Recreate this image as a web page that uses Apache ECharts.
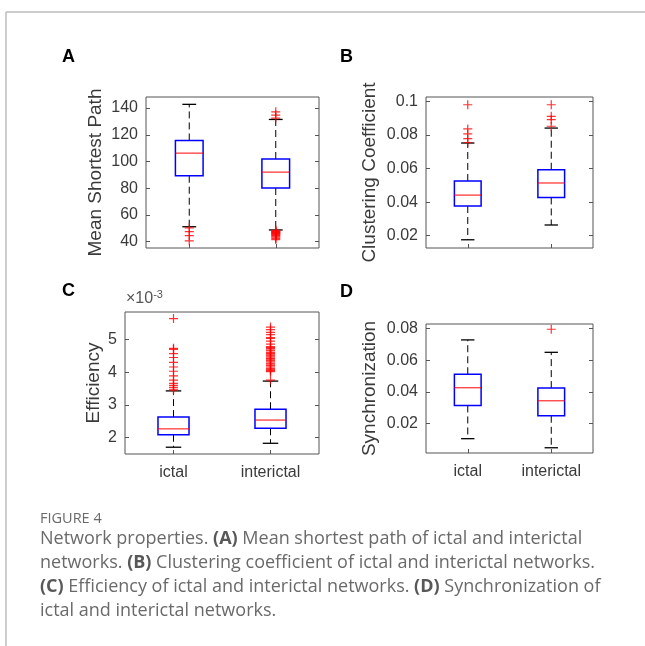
<!DOCTYPE html>
<html>
<head>
<meta charset="utf-8">
<script src="https://cdn.jsdelivr.net/npm/echarts@6/dist/echarts.min.js"></script>
<style>
html,body{margin:0;padding:0;background:#fff;}
#chart{width:645px;height:646px;}
</style>
</head>
<body>
<div id="chart"></div>
<script>
// ---------------- DATA ----------------
const categories = ['ictal', 'interictal'];

// box stats: [lower whisker, Q1, median, Q3, upper whisker]
const pathIctalBox = [51.2, 89.4, 106.3, 115.8, 142.8];
const pathInterBox = [48.8, 80.2, 92.1, 101.9, 131.5];
const pathIctalOut = [50.3, 47.5, 44.5, 40.7];
const pathInterOut = [137.2, 134.8, 132.5, 48.6, 48.2, 47.8, 47.4, 47.0, 46.6, 46.2, 45.8, 45.3, 44.8, 44.2, 43.4, 42.5, 41.6];
const pathTicks = [40, 60, 80, 100, 120, 140];

const clusIctalBox = [0.0176, 0.0377, 0.0442, 0.0526, 0.0752];
const clusInterBox = [0.0264, 0.0428, 0.0514, 0.0593, 0.0841];
const clusIctalOut = [0.098, 0.0836, 0.0806, 0.0778, 0.0755];
const clusInterOut = [0.098, 0.0911, 0.0891, 0.0852];
const clusTicks = [0.02, 0.04, 0.06, 0.08, 0.1];

const effIctalBox = [0.00171, 0.00209, 0.00227, 0.00263, 0.00343];
const effInterBox = [0.00183, 0.00229, 0.00254, 0.00287, 0.00373];
const effIctalOut = [0.00564, 0.00473, 0.00470, 0.00457, 0.00445, 0.00430, 0.00416, 0.00403, 0.00389, 0.00376, 0.00366, 0.00360, 0.00354, 0.00348, 0.00345];
const effInterOut = [0.00538, 0.00530, 0.00522, 0.00515, 0.00506, 0.00503, 0.00495, 0.00486, 0.00478, 0.00475, 0.00472, 0.00468, 0.00465, 0.00460, 0.00457, 0.00453, 0.00450, 0.00446, 0.00442, 0.00440, 0.00436, 0.00432, 0.00428, 0.00425, 0.00420, 0.00416, 0.00412, 0.00408, 0.00405, 0.00402, 0.00376];
const effTicks = [0.002, 0.003, 0.004, 0.005];

const syncIctalBox = [0.0106, 0.0315, 0.0426, 0.0511, 0.0727];
const syncInterBox = [0.0049, 0.0250, 0.0344, 0.0424, 0.0649];
const syncIctalOut = [];
const syncInterOut = [0.0794];
const syncTicks = [0.02, 0.04, 0.06, 0.08];

const yNames = ['Mean Shortest Path', 'Clustering Coefficient', 'Efficiency', 'Synchronization'];
const panelLetters = ['A', 'B', 'C', 'D'];
const captionTitle = 'FIGURE 4';
const captionLines = [
  'Network properties. {b|(A)} Mean shortest path of ictal and interictal',
  'networks. {b|(B)} Clustering coefficient of ictal and interictal networks.',
  '{b|(C)} Efficiency of ictal and interictal networks. {b|(D)} Synchronization of',
  'ictal and interictal networks.'
];

// ---------------- LAYOUT ----------------
const panels = [
  {grid:{left:146, top:97, width:173, height:151}, min:35.3, max:148.3, ticks:pathTicks,
   box:[pathIctalBox, pathInterBox], out:[pathIctalOut, pathInterOut], showX:false, nameGap:41,
   fmt:v=>String(v)},
  {grid:{left:426, top:97, width:167, height:151}, min:0.0127, max:0.1026, ticks:clusTicks,
   box:[clusIctalBox, clusInterBox], out:[clusIctalOut, clusInterOut], showX:false, nameGap:47,
   fmt:v=>String(+v.toFixed(2))},
  {grid:{left:125, top:312, width:194, height:142}, min:0.001503, max:0.00584, ticks:effTicks,
   box:[effIctalBox, effInterBox], out:[effIctalOut, effInterOut], showX:true, nameGap:22,
   fmt:v=>String(Math.round(v*1000))},
  {grid:{left:426, top:324, width:167, height:129}, min:0.0016, max:0.0827, ticks:syncTicks,
   box:[syncIctalBox, syncInterBox], out:[syncIctalOut, syncInterOut], showX:true, nameGap:47,
   fmt:v=>String(+v.toFixed(2))}
];

const FONT = 'Liberation Sans, Arial, Helvetica, sans-serif';
const TXT = '#3a3a3a';
const FRAME = '#555';

function boxRender(params, api) {
  const x = api.value(0);
  const pLo = api.coord([x, api.value(1)]);
  const pQ1 = api.coord([x, api.value(2)]);
  const pMed = api.coord([x, api.value(3)]);
  const pQ3 = api.coord([x, api.value(4)]);
  const pHi = api.coord([x, api.value(5)]);
  const bw = api.size([1, 0])[0] * 0.32;
  const cx = pMed[0];
  const cw = bw / 4;
  const dash = {stroke:'#000', lineWidth:1, lineDash:[7,4]};
  const solid = {stroke:'#000', lineWidth:1.3};
  return {type:'group', children:[
    {type:'line', shape:{x1:cx, y1:pQ3[1], x2:cx, y2:pHi[1]}, style:dash},
    {type:'line', shape:{x1:cx, y1:pQ1[1], x2:cx, y2:pLo[1]}, style:dash},
    {type:'line', shape:{x1:cx-cw, y1:pHi[1], x2:cx+cw, y2:pHi[1]}, style:solid},
    {type:'line', shape:{x1:cx-cw, y1:pLo[1], x2:cx+cw, y2:pLo[1]}, style:solid},
    {type:'rect', shape:{x:cx-bw/2, y:pQ3[1], width:bw, height:pQ1[1]-pQ3[1]}, style:{fill:'none', stroke:'#0000ff', lineWidth:1.5}},
    {type:'line', shape:{x1:cx-bw/2, y1:pMed[1], x2:cx+bw/2, y2:pMed[1]}, style:{stroke:'#ff0000', lineWidth:1}}
  ]};
}

const grid = [], xAxis = [], yAxis = [], series = [];
panels.forEach((p, i) => {
  grid.push(Object.assign({show:true, borderColor:FRAME, borderWidth:1, backgroundColor:'transparent'}, p.grid));
  xAxis.push({type:'category', gridIndex:i, data:categories, boundaryGap:true,
    axisLine:{show:false}, splitLine:{show:false},
    axisTick:{show:true, inside:true, alignWithLabel:true, length:4, lineStyle:{color:FRAME}},
    axisLabel:{show:p.showX, color:TXT, fontFamily:FONT, fontSize:16, margin:11}});
  const common = {type:'value', gridIndex:i, min:p.min, max:p.max, splitLine:{show:false}, axisLine:{show:false}};
  yAxis.push(Object.assign({}, common, {position:'left',
    name:yNames[i], nameLocation:'middle', nameGap:p.nameGap, nameRotate:90,
    nameTextStyle:{color:TXT, fontFamily:FONT, fontSize:19},
    axisTick:{show:true, inside:true, length:4, lineStyle:{color:FRAME}, customValues:p.ticks},
    axisLabel:{show:true, color:TXT, fontFamily:FONT, fontSize:16, margin:8, customValues:p.ticks, formatter:p.fmt}}));
  yAxis.push(Object.assign({}, common, {position:'right',
    axisTick:{show:true, inside:true, length:4, lineStyle:{color:FRAME}, customValues:p.ticks},
    axisLabel:{show:false}}));
  const yi = i * 2;
  series.push({type:'custom', xAxisIndex:i, yAxisIndex:yi, renderItem:boxRender,
    encode:{x:0, y:[1,2,3,4,5]},
    data:p.box.map((b, k) => [k].concat(b)), z:3});
  const outData = [];
  p.out.forEach((arr, k) => arr.forEach(v => outData.push([k, v])));
  series.push({type:'scatter', xAxisIndex:i, yAxisIndex:yi, data:outData,
    symbol:'path://M0,5L10,5M5,0L5,10', symbolSize:9, silent:true,
    itemStyle:{color:'rgba(0,0,0,0)', borderColor:'#ff0000', borderWidth:1.2}, z:4});
});

const letterPos = [[62,48],[340,48],[62,282],[340,283]];
const graphic = [
  {type:'line', shape:{x1:6, y1:12, x2:645, y2:12}, style:{stroke:'#bdbdbd', lineWidth:1.5}},
  {type:'line', shape:{x1:6, y1:12, x2:6, y2:646}, style:{stroke:'#bdbdbd', lineWidth:1.5}}
];
panelLetters.forEach((L, i) => graphic.push({type:'text', left:letterPos[i][0], top:letterPos[i][1],
  style:{text:L, fontFamily:FONT, fontWeight:'bold', fontSize:18, fill:'#000'}}));
graphic.push({type:'text', left:126, top:289,
  style:{text:'×10{s|-3}', fontFamily:FONT, fontSize:16, fill:'#555',
    rich:{s:{fontFamily:FONT, fontSize:11, fill:'#555', verticalAlign:'top', padding:[0,0,8,0]}}}});
graphic.push({type:'text', left:40, top:511,
  style:{text:captionTitle, fontFamily:'Open Sans, sans-serif', fontSize:14.5, fill:'#6a6a6a'}});
const CAPF = 'Open Sans, sans-serif';
captionLines.forEach((ln, i) => graphic.push({type:'text', left:40, top:530 + i*23.8,
  style:{text:ln, fontFamily:CAPF, fontSize:18, fill:'#6a6a6a',
    rich:{b:{fontFamily:CAPF, fontSize:18, fontWeight:'bold', fill:'#585858'}}}}));

const chart = echarts.init(document.getElementById('chart'), null, {renderer:'canvas'});
chart.setOption({animation:false, backgroundColor:'#fff', grid, xAxis, yAxis, series, graphic});
</script>
</body>
</html>
